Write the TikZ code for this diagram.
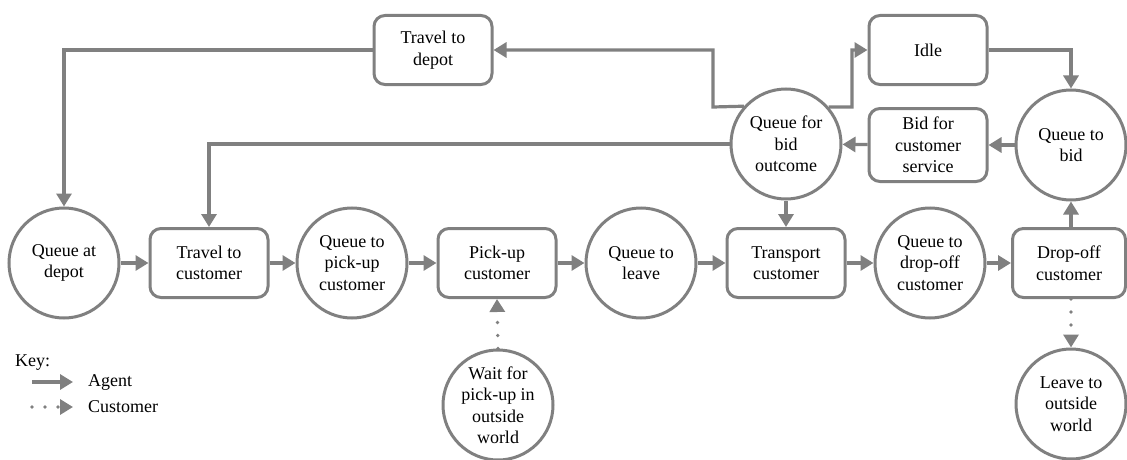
\documentclass[tikz,border=0pt]{standalone}
\usepackage{fontspec}
\setmainfont{Liberation Serif}
\usetikzlibrary{arrows.meta}
\definecolor{flow}{RGB}{128,128,128}
\begin{document}
\begin{tikzpicture}[x=1pt,y=-1pt,
  every node/.style={font=\fontsize{18}{21.5}\selectfont, align=center, inner sep=0pt},
  queue/.style={circle, draw=flow, line width=3pt, minimum size=110pt},
  activity/.style={rectangle, rounded corners=11pt, draw=flow, line width=3pt,
                   minimum width=118pt, minimum height=69pt},
  agent/.style={draw=flow, line width=3.2pt, -{Triangle[length=13pt,width=15pt]}},
  customer/.style={draw=flow, line width=3.6pt, line cap=round,
                   dash pattern=on 0pt off 13pt,
                   -{Triangle[length=13pt,width=15pt,line cap=butt]}},
]
\useasboundingbox (0,0) rectangle (1127,460);

% main row
\node[queue]    (qad) at (64,263)   {Queue at\\depot};
\node[activity] (ttc) at (209,263)  {Travel to\\customer};
\node[queue]    (qpu) at (352,263)  {Queue to\\pick-up\\customer};
\node[activity] (puc) at (497,263)  {Pick-up\\customer};
\node[queue]    (qtl) at (641,263)  {Queue to\\leave};
\node[activity] (tc)  at (786,263)  {Transport\\customer};
\node[queue]    (qdo) at (930,263)  {Queue to\\drop-off\\customer};
\node[activity, minimum width=113pt] (doc) at (1069,263) {Drop-off\\customer};

% upper part
\node[activity] (tdp) at (433,50)   {Travel to\\depot};
\node[activity] (idle) at (928,50)  {Idle};
\node[queue]    (qbo) at (786,144)  {Queue for\\bid\\outcome};
\node[activity, minimum height=73pt] (bid) at (928,145) {Bid for\\customer\\service};
\node[queue]    (qtb) at (1071,145) {Queue to\\bid};

% outside world
\node[queue] (wpu) at (498,405)  {Wait for\\pick-up in\\outside\\world};
\node[queue] (lvo) at (1071,404) {Leave to\\outside\\world};

% agent flow along the main row
\draw[agent] (qad) -- (ttc);
\draw[agent] (ttc) -- (qpu);
\draw[agent] (qpu) -- (puc);
\draw[agent] (puc) -- (qtl);
\draw[agent] (qtl) -- (tc);
\draw[agent] (tc) -- (qdo);
\draw[agent] (qdo) -- (doc);
\draw[agent] (doc.north -| qtb.south) -- (qtb.south);

% bidding loop
\draw[agent] (qtb) -- (bid);
\draw[agent] (bid) -- (qbo);
\draw[agent] (qbo) -- (tc);
\draw[agent] (qbo.west) -| (ttc.north);
\coordinate (jl) at (713,107);
\coordinate (jr) at (852,107);
\draw[agent] (qbo.138.6) -- (jl) |- (tdp.east);
\draw[agent] (qbo.41.4) -- (jr) |- (idle.west);
\draw[agent] (idle.east) -| (qtb.north);
\draw[agent] (tdp.west) -| (qad.north);

% customer flow
\draw[customer] (wpu.north) -- (puc.south);
\draw[customer] (doc.south -| lvo.north) -- (lvo.north);

% key
\node[anchor=west] (key) at (15,363) {Key:};
\coordinate (ka1) at (32,382);
\coordinate (ka2) at (73,382);
\coordinate (kc1) at (32,407);
\coordinate (kc2) at (73,407);
\draw[agent] (ka1) -- (ka2);
\draw[customer] (kc1) -- (kc2);
\node[anchor=west] (kagent) at (88,382) {Agent};
\node[anchor=west] (kcust) at (88,407) {Customer};
\end{tikzpicture}
\end{document}
